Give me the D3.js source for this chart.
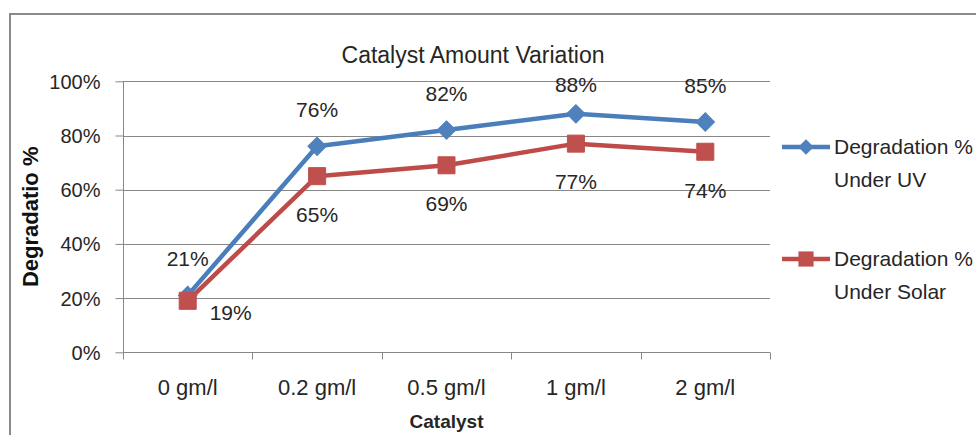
<!DOCTYPE html>
<html>
<head>
<meta charset="utf-8">
<script src="https://cdn.jsdelivr.net/npm/d3@7"></script>
<style>
  html, body { margin: 0; padding: 0; background: #fff; }
  svg { display: block; font-family: "Liberation Sans", Arial, sans-serif; }
</style>
</head>
<body>
<svg id="chart" width="976" height="435"></svg>
<script>
// Catalyst dose categories and degradation results (%)
const categories = ["0 gm/l", "0.2 gm/l", "0.5 gm/l", "1 gm/l", "2 gm/l"];
const uvValues = [21, 76, 82, 88, 85];
const solarValues = [19, 65, 69, 77, 74];
const yTicks = [0, 20, 40, 60, 80, 100];
const seriesNames = ["Degradation % Under UV", "Degradation % Under Solar"];

const W = 976, H = 435;
const plot = { left: 123, right: 770, top: 81.3, bottom: 352.3 };
const textColor = "#262626";
const gridColor = "#878787";

const series = [
  { name: seriesNames[0], values: uvValues, line: "#4A7EBB", fill: "#4F81BD", marker: "diamond", labelPos: "above" },
  { name: seriesNames[1], values: solarValues, line: "#BE4B48", fill: "#C0504D", marker: "square", labelPos: "below" }
];

const svg = d3.select("#chart");

// outer chart frame
svg.append("rect")
  .attr("x", 10).attr("y", 14)
  .attr("width", W + 20).attr("height", H + 20)
  .attr("fill", "#fff")
  .attr("stroke", "#8a8a8a").attr("stroke-width", 2);

const x = d3.scaleBand().domain(categories).range([plot.left, plot.right]).padding(0);
const y = d3.scaleLinear().domain([0, 100]).range([plot.bottom, plot.top]);
const cx = c => x(c) + x.bandwidth() / 2;

// horizontal gridlines
svg.append("g")
  .selectAll("line")
  .data(yTicks.filter(t => t > 0))
  .join("line")
  .attr("x1", plot.left).attr("x2", plot.right)
  .attr("y1", d => Math.round(y(d)) + 0.5).attr("y2", d => Math.round(y(d)) + 0.5)
  .attr("stroke", gridColor).attr("stroke-width", 1);

// y axis
const yAxis = svg.append("g")
  .attr("transform", `translate(${plot.left + 0.5},0)`)
  .call(d3.axisLeft(y).tickValues(yTicks).tickSize(8).tickPadding(15).tickFormat(d => d + "%"));
yAxis.select(".domain").attr("stroke", gridColor).attr("d", `M0,${plot.top}V${plot.bottom}`);
yAxis.selectAll(".tick line").attr("stroke", gridColor);
yAxis.selectAll(".tick text")
  .attr("fill", textColor)
  .style("font-size", "20px")
  .attr("dy", "0.35em");

// x axis: line, boundary tick marks and category labels
const xAxis = svg.append("g")
  .attr("transform", `translate(0,${Math.round(plot.bottom) + 0.5})`);
xAxis.append("line")
  .attr("x1", plot.left).attr("x2", plot.right)
  .attr("stroke", gridColor).attr("stroke-width", 1);
const edges = categories.map(c => x(c)).concat([x.range()[1]]);
xAxis.selectAll("line.edge")
  .data(edges)
  .join("line")
  .attr("class", "edge")
  .attr("x1", d => Math.round(d) + 0.5).attr("x2", d => Math.round(d) + 0.5)
  .attr("y1", 0).attr("y2", 7)
  .attr("stroke", gridColor);
xAxis.selectAll("text.cat")
  .data(categories)
  .join("text")
  .attr("class", "cat")
  .attr("x", d => cx(d))
  .attr("y", 35)
  .attr("dy", "0.35em")
  .attr("text-anchor", "middle")
  .attr("fill", textColor)
  .style("font-size", "22px")
  .text(d => d);

// title and axis titles
svg.append("text")
  .attr("x", 473).attr("y", 55).attr("dy", "0.35em")
  .attr("text-anchor", "middle")
  .attr("fill", textColor)
  .style("font-size", "23px")
  .text("Catalyst Amount Variation");

svg.append("text")
  .attr("x", (plot.left + plot.right) / 2).attr("y", 421).attr("dy", "0.35em")
  .attr("text-anchor", "middle")
  .attr("fill", textColor)
  .style("font-size", "19px").style("font-weight", "bold")
  .text("Catalyst");

svg.append("text")
  .attr("transform", `translate(30.5,${(plot.top + plot.bottom) / 2}) rotate(-90)`)
  .attr("dy", "0.35em")
  .attr("text-anchor", "middle")
  .attr("fill", "#111")
  .style("font-size", "22px").style("font-weight", "bold")
  .text("Degradatio %");

// marker generators
const markerPath = type => type === "diamond"
  ? d3.symbol().type(d3.symbolSquare).size(170)()
  : d3.symbol().type(d3.symbolSquare).size(290)();
const markerRotate = type => type === "diamond" ? 45 : 0;

const line = d3.line().x(d => cx(d.c)).y(d => y(d.v));

series.forEach(s => {
  const pts = categories.map((c, i) => ({ c, v: s.values[i], i }));
  svg.append("path")
    .datum(pts)
    .attr("d", line)
    .attr("fill", "none")
    .attr("stroke", s.line)
    .attr("stroke-width", 4.5)
    .attr("stroke-linejoin", "round");

  svg.append("g")
    .selectAll("path")
    .data(pts)
    .join("path")
    .attr("d", markerPath(s.marker))
    .attr("transform", d => `translate(${cx(d.c)},${y(d.v)}) rotate(${markerRotate(s.marker)})`)
    .attr("fill", s.fill)
    .attr("stroke", s.fill).attr("stroke-width", 1);

  // value labels
  svg.append("g")
    .selectAll("text")
    .data(pts)
    .join("text")
    .attr("x", d => {
      if (s.labelPos === "below" && d.i === 0) return cx(d.c) + 43;
      return cx(d.c);
    })
    .attr("y", d => {
      if (s.labelPos === "above") return Math.max(y(d.v) - 36.5, 85);
      if (d.i === 0) return y(d.v) + 12;
      return y(d.v) + 38.5;
    })
    .attr("dy", "0.35em")
    .attr("text-anchor", "middle")
    .attr("fill", textColor)
    .style("font-size", "21px")
    .text(d => d.v + "%");
});

// legend
const legendRows = [
  { s: series[0], y: 147, lines: ["Degradation %", "Under UV"] },
  { s: series[1], y: 259, lines: ["Degradation %", "Under Solar"] }
];
const legend = svg.append("g");
legendRows.forEach(r => {
  const g = legend.append("g");
  g.append("line")
    .attr("x1", 782).attr("x2", 830)
    .attr("y1", r.y).attr("y2", r.y)
    .attr("stroke", r.s.line).attr("stroke-width", 4.5);
  g.append("path")
    .attr("d", r.s.marker === "diamond"
      ? d3.symbol().type(d3.symbolSquare).size(120)()
      : d3.symbol().type(d3.symbolSquare).size(230)())
    .attr("transform", `translate(806,${r.y}) rotate(${markerRotate(r.s.marker)})`)
    .attr("fill", r.s.fill);
  r.lines.forEach((t, k) => {
    g.append("text")
      .attr("x", 834).attr("y", r.y + k * 33)
      .attr("dy", "0.35em")
      .attr("fill", textColor)
      .style("font-size", "21px")
      .text(t);
  });
});
</script>
</body>
</html>
